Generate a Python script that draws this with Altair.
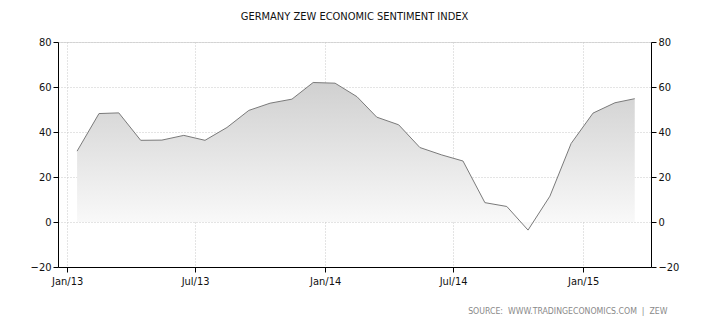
import altair as alt
import pandas as pd

dates = pd.date_range("2013-01-01", "2015-03-01", freq="MS") + pd.Timedelta(days=14)
dates = [d.strftime("%Y-%m-%d") for d in dates]
values = [31.5, 48.2, 48.5, 36.3, 36.4, 38.5, 36.3, 42.0, 49.6, 52.8, 54.6, 62.0,
          61.7, 55.7, 46.6, 43.2, 33.1, 29.8, 27.1, 8.6, 6.9, -3.6, 11.5, 34.9,
          48.4, 53.0, 54.8]
y_ticks = [-20, 0, 20, 40, 60, 80]
x_ticks = [(2013, 1), (2013, 7), (2014, 1), (2014, 7), (2015, 1)]
title = "GERMANY ZEW ECONOMIC SENTIMENT INDEX"
source = "SOURCE:\u00a0\u00a0WWW.TRADINGECONOMICS.COM\u00a0\u00a0|\u00a0\u00a0ZEW"

df = pd.DataFrame({"date": dates, "value": values, "zero": [0] * len(values)})

label_font = "DejaVu Sans Condensed"
cond_font = "DejaVu Sans Condensed"

x_scale = alt.Scale(domain=[alt.DateTime(year=2012, month=12, date=19),
                            alt.DateTime(year=2015, month=4, date=7)])
y_scale = alt.Scale(domain=[-20, 80], nice=False, zero=False)

x_axis = alt.Axis(
    values=[alt.DateTime(year=y, month=m, date=1) for y, m in x_ticks],
    format="%b/%y", labelFont=label_font, labelFontSize=11, labelColor="#111",
    domainColor="#000", tickColor="#000", tickSize=5, labelPadding=3,
    grid=True, gridColor="#c8c8c8", gridDash=[1, 2],
    title=source, titleFont=cond_font, titleFontSize=8.7, titleFontWeight="normal",
    titleColor="#8a8a8a", titleAlign="right", titleAnchor="end",
    titleX=609, titleY=43, titleBaseline="middle",
)

left_axis = alt.Axis(
    values=y_ticks, orient="left", title=None, labelFont=label_font,
    labelFontSize=11, labelColor="#111", domainColor="#000", tickColor="#000",
    tickSize=5, labelPadding=2, grid=True, gridColor="#c8c8c8", gridDash=[1, 2],
)
right_axis = alt.Axis(
    values=y_ticks, orient="right", title=None, labelFont=label_font,
    labelFontSize=11, labelColor="#111", domainColor="#000", tickColor="#000",
    tickSize=5, labelPadding=2, grid=False,
)

base = alt.Chart(df).encode(
    x=alt.X("date:T", scale=x_scale, axis=x_axis),
)

area = base.mark_area(
    color=alt.Gradient(
        gradient="linear",
        stops=[alt.GradientStop(color="#d0d0d0", offset=0),
               alt.GradientStop(color="#fbfbfb", offset=1)],
        x1=1, x2=1, y1=0, y2=1,
    ),
).encode(
    y=alt.Y("value:Q", scale=y_scale, axis=left_axis),
    y2="zero:Q",
)

line = base.mark_line(color="#7a7a7a", strokeWidth=1).encode(
    y=alt.Y("value:Q", scale=y_scale, axis=right_axis),
)

chart = alt.layer(area, line).resolve_scale(y="independent").properties(
    width=593, height=225,
    autosize=alt.AutoSizeParams(type="none"),
    padding={"left": 58, "top": 42, "right": 59, "bottom": 58},
    title=alt.TitleParams(title, font=cond_font, fontSize=11, fontWeight="normal",
                          color="#111", anchor="middle", offset=14),
).configure_view(stroke=None).configure(background="white")

chart.save("out.html", embed_options={"renderer": "svg", "actions": False})
